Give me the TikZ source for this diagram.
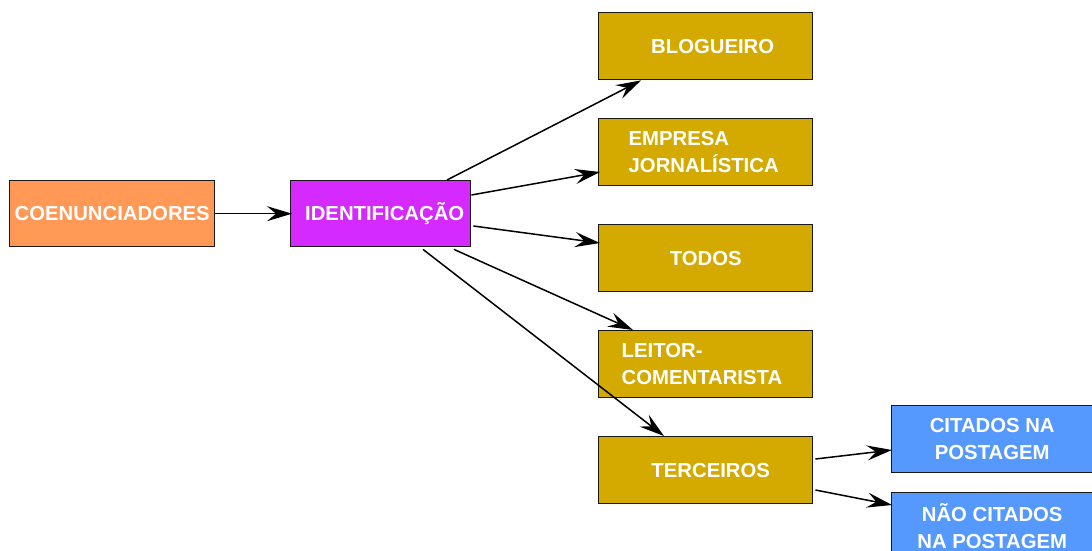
\documentclass[tikz,border=0pt]{standalone}
\usepackage{fontspec}
\setmainfont{Liberation Sans}
\usetikzlibrary{arrows.meta,calc}
\definecolor{coencol}{HTML}{FF9955}
\definecolor{identcol}{HTML}{D42AFF}
\definecolor{goldcol}{HTML}{D4AA00}
\definecolor{bluecol}{HTML}{5599FF}
\begin{document}
\begin{tikzpicture}[x=1pt,y=-1pt,
  box/.style={draw=black!90,line width=1.4pt,inner sep=0pt,minimum width=214pt,minimum height=67pt,
    anchor=north west,font=\bfseries\fontsize{20.3}{26.5}\selectfont,text=white,align=center},
  gold/.style={box,fill=goldcol},
  blue/.style={box,fill=bluecol,minimum width=201pt},
  arr/.style={line width=1.5pt,-{Stealth[length=25pt,width=15pt,inset=9pt]}}]
\useasboundingbox (0,0) rectangle (1092,551);
\node[box,fill=coencol,minimum width=205pt,minimum height=66pt] (coen) at (9,180) {COENUNCIADORES};
\node[box,fill=identcol,minimum width=180pt,minimum height=66pt] (ident) at (290,180) {\hspace*{8pt}IDENTIFICAÇÃO};
\node[gold] (blog) at (598,12) {\hspace*{14pt}BLOGUEIRO};
\node[gold,text width=154pt,align=left] (emp) at (598,118) {EMPRESA\\JORNALÍSTICA};
\node[gold] (todos) at (598,224) {TODOS};
\node[gold,text width=168pt,align=left] (leitor) at (598,330) {LEITOR-\\COMENTARISTA};
\node[gold] (terc) at (598,436) {\hspace*{10pt}TERCEIROS};
\node[blue] (cit) at (891,405) {CITADOS NA\\POSTAGEM};
\node[blue] (nao) at (891,492) {NÃO CITADOS\\NA POSTAGEM};
\draw[arr] (coen) -- ($(ident.west)+(2,0)$);
\draw[arr] ($(ident.north west)+(157,0)$) -- ($(blog.south west)+(43,0)$);
\draw[arr] ($(ident.north east)+(0,15)$) -- ($(emp.north west)+(2,54)$);
\draw[arr] ($(ident.north east)+(2,46)$) -- ($(todos.north west)+(2,19)$);
\draw[arr] ($(ident.south west)+(164,2)$) -- ($(leitor.north west)+(35,0)$);
\draw[arr] ($(ident.south west)+(133,2)$) -- ($(terc.north west)+(66,0)$);
\draw[arr] ($(terc.north east)+(2,23)$) -- ($(cit.north west)+(1,45)$);
\draw[arr] ($(terc.north east)+(2,54)$) -- ($(nao.north west)+(1,13)$);
\end{tikzpicture}
\end{document}
